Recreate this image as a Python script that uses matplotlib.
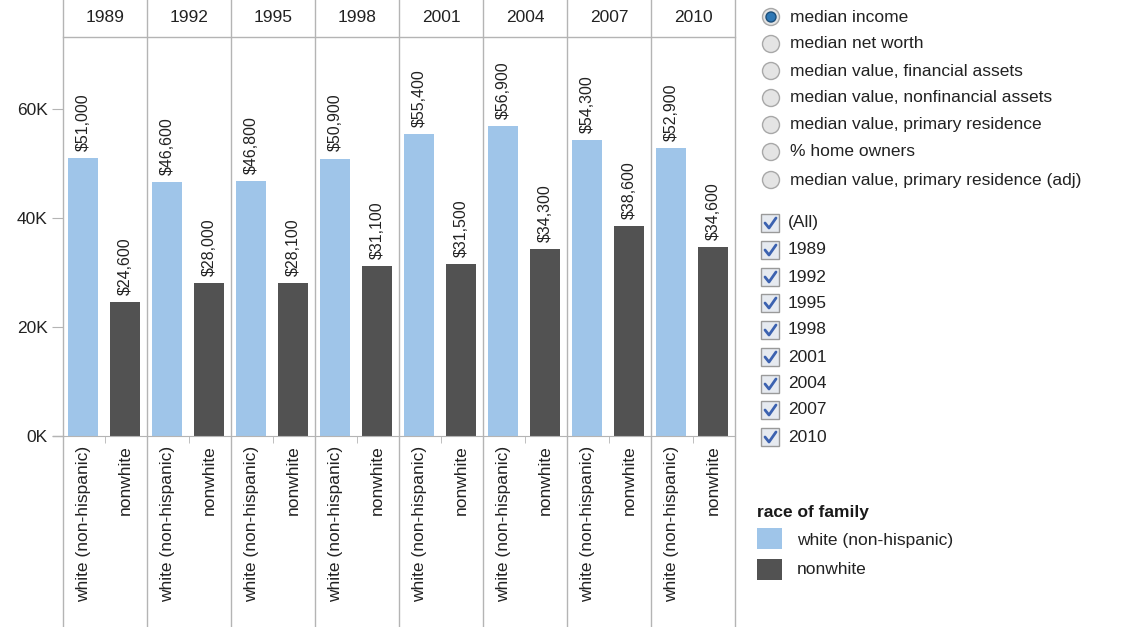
import numpy as np
import matplotlib
matplotlib.use('Agg')
import matplotlib.pyplot as plt
from matplotlib.patches import Circle, Rectangle
from matplotlib.ticker import FuncFormatter

plt.rcParams['font.family'] = ['Liberation Sans', 'DejaVu Sans']

# median family income by survey year and race of family
years = ['1989', '1992', '1995', '1998', '2001', '2004', '2007', '2010']
white_income = [51000, 46600, 46800, 50900, 55400, 56900, 54300, 52900]
nonwhite_income = [24600, 28000, 28100, 31100, 31500, 34300, 38600, 34600]
groups = ['white (non-hispanic)', 'nonwhite']

measures = ['median income', 'median net worth', 'median value, financial assets',
            'median value, nonfinancial assets', 'median value, primary residence',
            '% home owners', 'median value, primary residence (adj)']
year_filter = ['(All)'] + years

W, H = 1136, 627
light_blue = '#9fc5e9'
dark_gray = '#525252'
grid_gray = '#b4b4b4'
text_col = '#222222'

fig = plt.figure(figsize=(W / 100, H / 100), dpi=100)

# main bar panel, in pixel extents
left, right, top, bottom = 63, 735, 37, 436
ax = fig.add_axes([left / W, 1 - bottom / H, (right - left) / W, (bottom - top) / H])

n = len(years)
x = np.arange(n)
ax.bar(x + 0.24, white_income, width=0.36, color=light_blue, zorder=2)
ax.bar(x + 0.74, nonwhite_income, width=0.36, color=dark_gray, zorder=2)

ax.set_xlim(0, n)
ax.set_ylim(0, 73200)

for xi, v in zip(x + 0.24, white_income):
    ax.text(xi, v + 1300, f'${v:,}', rotation=90, ha='center', va='bottom',
            fontsize=11.5, color=text_col)
for xi, v in zip(x + 0.74, nonwhite_income):
    ax.text(xi, v + 1300, f'${v:,}', rotation=90, ha='center', va='bottom',
            fontsize=11.5, color=text_col)

ax.set_yticks([0, 20000, 40000, 60000])
ax.yaxis.set_major_formatter(FuncFormatter(lambda v, p: f'{int(v / 1000)}K'))
ax.tick_params(axis='y', length=8, color=grid_gray, labelsize=12.5,
               labelcolor=text_col, pad=3)

centers = np.concatenate([x + 0.24, x + 0.74])
labels = [groups[0]] * n + [groups[1]] * n
ax.set_xticks(centers)
ax.set_xticklabels(labels, rotation=90, fontsize=12.5, color=text_col)
ax.tick_params(axis='x', length=0, pad=7)
ax.set_xticks(x + 0.5, minor=True)
ax.tick_params(axis='x', which='minor', length=5, color=grid_gray)

for s in ['top', 'right', 'left']:
    ax.spines[s].set_visible(False)
ax.spines['bottom'].set_color(grid_gray)

# panel separators running through the header and label area
tr = ax.get_xaxis_transform()
for i in range(n + 1):
    ax.plot([i, i], [-(H - bottom) / (bottom - top), 1 + top / (bottom - top)],
            transform=tr, color=grid_gray, lw=1, clip_on=False, zorder=3)
ax.plot([0, n], [1, 1], transform=tr, color=grid_gray, lw=1, clip_on=False)
ax.plot([-0.12, 0], [0, 0], transform=tr, color=grid_gray, lw=1, clip_on=False)

for i, yr in enumerate(years):
    ax.text(i + 0.5, 1 + 19 / (bottom - top), yr, transform=tr, ha='center',
            va='center', fontsize=12.5, color=text_col)

# controls on the right, drawn in pixel coordinates
ov = fig.add_axes([0, 0, 1, 1], facecolor='none')
ov.set_xlim(0, W)
ov.set_ylim(H, 0)
ov.axis('off')

radio_y = [17, 44, 71, 98, 125, 152, 180]
for k, (label, yy) in enumerate(zip(measures, radio_y)):
    ov.add_patch(Circle((771, yy), 8.5, facecolor='#e4e4e4', edgecolor='#a8a8a8', lw=1))
    if k == 0:
        ov.add_patch(Circle((771, yy), 5, facecolor='#2f78b5', edgecolor='#1d4f7a', lw=1))
    ov.text(790, yy, label, ha='left', va='center', fontsize=12.5, color=text_col)

check_y = [223, 250, 277, 303, 330, 357, 384, 410, 437]
for label, yy in zip(year_filter, check_y):
    ov.add_patch(Rectangle((761, yy - 9), 18, 18, facecolor='#e6eaf0',
                           edgecolor='#9a9a9a', lw=1))
    ov.plot([765, 769, 776], [yy, yy + 5, yy - 5], color='#3c62b0', lw=2,
            solid_capstyle='round')
    ov.text(788, yy, label, ha='left', va='center', fontsize=12.5, color=text_col)

ov.text(757, 513, 'race of family', ha='left', va='center', fontsize=12.5,
        fontweight='bold', color='#1a1a1a')
ov.add_patch(Rectangle((757, 528), 25, 21, facecolor=light_blue, edgecolor='none'))
ov.add_patch(Rectangle((757, 559), 25, 21, facecolor=dark_gray, edgecolor='none'))
ov.text(797, 540, groups[0], ha='left', va='center', fontsize=12.5, color=text_col)
ov.text(797, 570, groups[1], ha='left', va='center', fontsize=12.5, color=text_col)

fig.savefig('out.png', dpi=100)
